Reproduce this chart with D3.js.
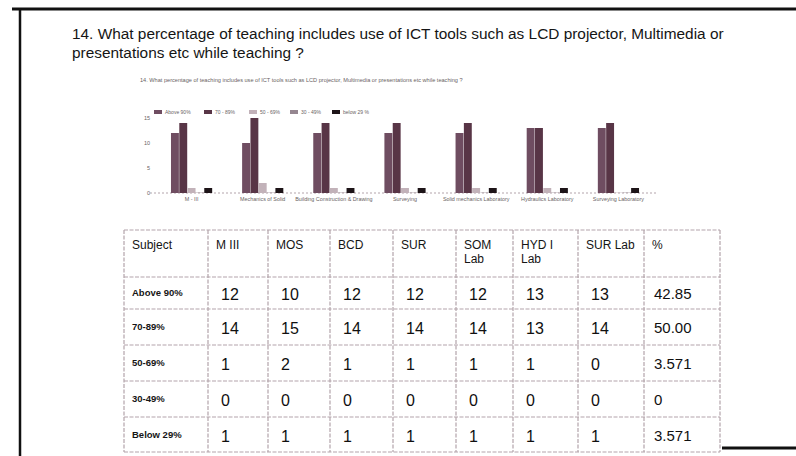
<!DOCTYPE html>
<html>
<head>
<meta charset="utf-8">
<script src="https://cdn.jsdelivr.net/npm/d3@7"></script>
<style>
  body { margin: 0; background: #fff; }
  svg { display: block; font-family: "Liberation Sans", Arial, sans-serif; }
</style>
</head>
<body>
<svg id="chart" width="796" height="456"></svg>
<script>
// data
const subjects = ["M III", "MOS", "BCD", "SUR", "SOM Lab", "HYD I Lab", "SUR Lab"];
const chartCategories = ["M - III", "Mechanics of Solid", "Building Construction & Drawing", "Surveying",
  "Solid mechanics Laboratory", "Hydraulics Laboratory", "Surveying Laboratory"];
const ranges = ["Above 90%", "70-89%", "50-69%", "30-49%", "Below 29%"];
const legendLabels = ["Above 90%", "70 - 89%", "50 - 69%", "30 - 49%", "below 29 %"];
const above90 = [12, 10, 12, 12, 12, 13, 13];
const from70to89 = [14, 15, 14, 14, 14, 13, 14];
const from50to69 = [1, 2, 1, 1, 1, 1, 0];
const from30to49 = [0, 0, 0, 0, 0, 0, 0];
const below29 = [1, 1, 1, 1, 1, 1, 1];
const percents = ["42.85", "50.00", "3.571", "0", "3.571"];
const yTicks = [0, 5, 10, 15];

const series = [above90, from70to89, from50to69, from30to49, below29];
const COLORS = ["#6f4d61", "#583546", "#c2b2b9", "#958690", "#1d1418"];
const GRID = "#b3a4ab";

const svg = d3.select("#chart");

// page frame of the scan
svg.append("line").attr("x1", 12).attr("x2", 796).attr("y1", 9).attr("y2", 9)
  .attr("stroke", "#111").attr("stroke-width", 3);
svg.append("line").attr("x1", 20).attr("x2", 20).attr("y1", 8).attr("y2", 456)
  .attr("stroke", "#111").attr("stroke-width", 2.5);
svg.append("line").attr("x1", 722).attr("x2", 796).attr("y1", 448).attr("y2", 448)
  .attr("stroke", "#111").attr("stroke-width", 3);

// question
svg.append("text").attr("x", 72).attr("y", 39)
  .style("font-size", "15.4px").attr("fill", "#151515")
  .text("14. What percentage of teaching includes use of ICT tools such as LCD projector, Multimedia or");
svg.append("text").attr("x", 72).attr("y", 58)
  .style("font-size", "15.4px").attr("fill", "#151515")
  .text("presentations etc while teaching ?");

// ---- small bar chart ----
svg.append("text").attr("x", 140).attr("y", 82)
  .style("font-size", "5.6px").attr("fill", "#6a5f64")
  .text("14. What percentage of teaching includes use of ICT tools such as LCD projector, Multimedia or presentations etc while teaching ?");

const x0 = d3.scaleBand().domain(chartCategories).range([156, 654]).padding(0);
const x1 = d3.scaleBand().domain(d3.range(series.length))
  .range([0, x0.bandwidth()]).paddingInner(0.05).paddingOuter(1.8);
const y = d3.scaleLinear().domain([0, 15]).range([193, 118]);

// baseline
svg.append("line").attr("x1", 150).attr("x2", 656).attr("y1", y(0)).attr("y2", y(0))
  .attr("stroke", GRID).attr("stroke-dasharray", "2,2");

const yAxis = svg.append("g").attr("transform", "translate(150,0)")
  .call(d3.axisLeft(y).tickValues(yTicks).tickSize(0).tickPadding(0));
yAxis.select(".domain").remove();
yAxis.selectAll("text").style("font-size", "5.5px").attr("fill", "#6a5f64");

const groups = svg.selectAll("g.cat")
  .data(chartCategories)
  .enter()
  .append("g")
  .classed("cat", true)
  .attr("transform", d => "translate(" + x0(d) + ",0)");

groups.selectAll("rect")
  .data((d, i) => series.map((s, k) => ({ k: k, v: s[i] })))
  .enter()
  .append("rect")
  .attr("x", d => x1(d.k))
  .attr("y", d => y(d.v) - (d.v === 0 ? 1 : 0))
  .attr("width", x1.bandwidth())
  .attr("height", d => y(0) - y(d.v) + (d.v === 0 ? 1 : 0))
  .attr("fill", d => COLORS[d.k])
  .attr("opacity", d => d.v === 0 ? 0.35 : 1);

svg.selectAll("text.cat")
  .data(chartCategories)
  .enter()
  .append("text")
  .classed("cat", true)
  .attr("x", d => x0(d) + x0.bandwidth() / 2)
  .attr("y", 201)
  .attr("text-anchor", "middle")
  .style("font-size", "5.4px")
  .attr("fill", "#6a5f64")
  .text(d => d);

// legend
const legendX = [154, 204, 249, 290, 332];
const legend = svg.selectAll("g.leg")
  .data(legendLabels)
  .enter()
  .append("g")
  .classed("leg", true)
  .attr("transform", (d, i) => "translate(" + legendX[i] + ",110)");
legend.append("rect").attr("width", 8).attr("height", 4)
  .attr("fill", (d, i) => COLORS[i]);
legend.append("text").attr("x", 11).attr("y", 4)
  .style("font-size", "5px").attr("fill", "#6a5f64")
  .text(d => d);

// ---- table ----
const colEdges = [124, 208, 268, 330, 393, 456, 513, 578, 644, 720];
const rowEdges = [230, 277, 309, 345, 381, 417, 452];
const header = [["Subject"], ["M III"], ["MOS"], ["BCD"], ["SUR"], ["SOM", "Lab"], ["HYD I", "Lab"], ["SUR Lab"], ["%"]];

const table = svg.append("g");
rowEdges.forEach(r => {
  table.append("line").attr("x1", colEdges[0]).attr("x2", colEdges[colEdges.length - 1])
    .attr("y1", r).attr("y2", r)
    .attr("stroke", GRID).attr("stroke-width", 1.2).attr("stroke-dasharray", "4,1.5");
});
colEdges.forEach(c => {
  table.append("line").attr("x1", c).attr("x2", c)
    .attr("y1", rowEdges[0]).attr("y2", rowEdges[rowEdges.length - 1])
    .attr("stroke", GRID).attr("stroke-width", 1.2).attr("stroke-dasharray", "4,1.5");
});

header.forEach((lines, j) => {
  lines.forEach((t, l) => {
    table.append("text")
      .attr("x", colEdges[j] + (j === 0 ? 8 : 8))
      .attr("y", 249 + l * 14)
      .style("font-size", "12px")
      .attr("fill", "#151515")
      .text(t);
  });
});

ranges.forEach((r, i) => {
  const mid = (rowEdges[i + 1] + rowEdges[i + 2]) / 2;
  table.append("text")
    .attr("x", colEdges[0] + 8).attr("y", mid + 3)
    .style("font-size", "9.5px").style("font-weight", "bold")
    .attr("fill", "#151515")
    .text(r);
  series[i].forEach((v, j) => {
    table.append("text")
      .attr("x", colEdges[j + 1] + 13).attr("y", mid + 7)
      .style("font-size", "16px")
      .attr("fill", "#101010")
      .text(v);
  });
  table.append("text")
    .attr("x", colEdges[8] + 10).attr("y", mid + 6)
    .style("font-size", "15px")
    .attr("fill", "#101010")
    .text(percents[i]);
});
</script>
</body>
</html>
